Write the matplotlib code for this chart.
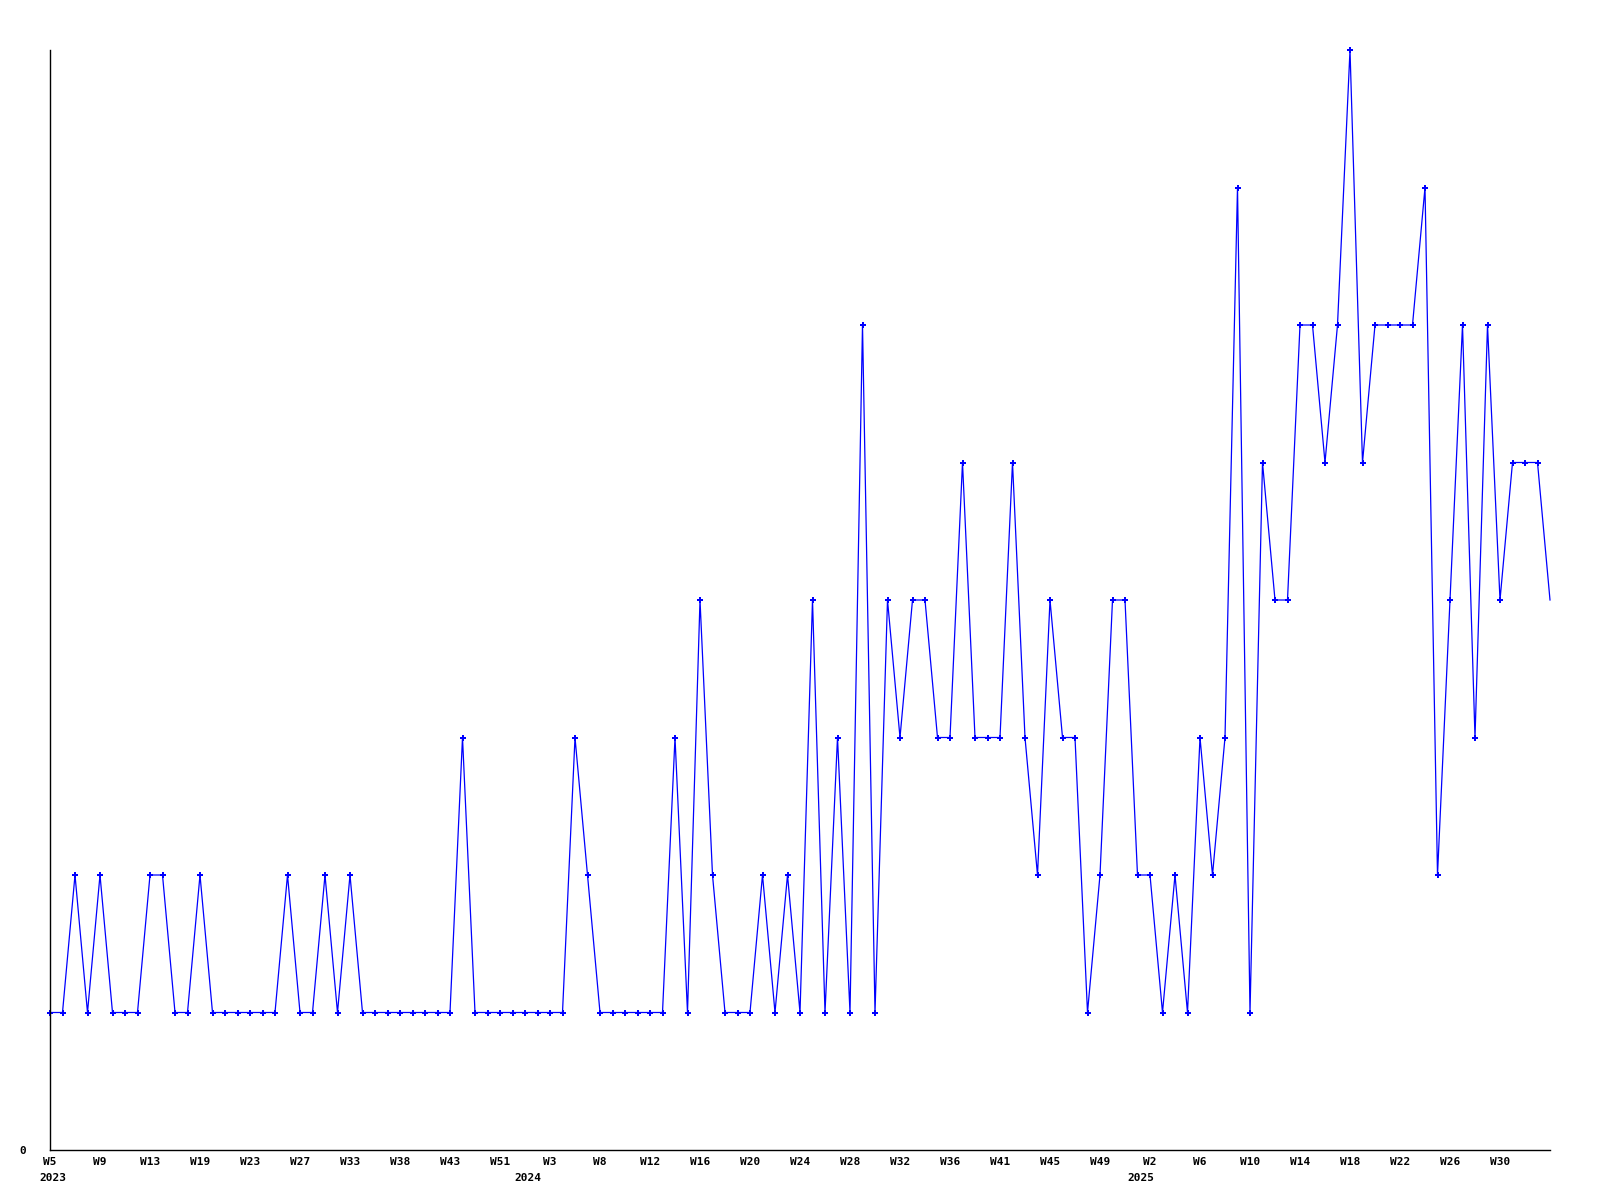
import matplotlib
matplotlib.use("Agg")
import matplotlib.pyplot as plt
import matplotlib.transforms as mtransforms

# weekly counts, one point per reported week (gaps in weeks are skipped)
values = [
    1, 1, 2, 1, 2, 1, 1, 1, 2, 2, 1, 1, 2, 1, 1, 1, 1, 1, 1, 2,
    1, 1, 2, 1, 2, 1, 1, 1, 1, 1, 1, 1, 1, 3, 1, 1, 1, 1, 1, 1,
    1, 1, 3, 2, 1, 1, 1, 1, 1, 1, 3, 1, 4, 2, 1, 1, 1, 2, 1, 2,
    1, 4, 1, 3, 1, 6, 1, 4, 3, 4, 4, 3, 3, 5, 3, 3, 3, 5, 3, 2,
    4, 3, 3, 1, 2, 4, 4, 2, 2, 1, 2, 1, 3, 2, 3, 7, 1, 5, 4, 4,
    6, 6, 5, 6, 8, 5, 6, 6, 6, 6, 7, 2, 4, 6, 3, 6, 4, 5, 5, 5,
    4,
]

tick_pos = list(range(0, 120, 4))
tick_labels = ["W5", "W9", "W13", "W19", "W23", "W27", "W33", "W38", "W43", "W51",
               "W3", "W8", "W12", "W16", "W20", "W24", "W28", "W32", "W36", "W41",
               "W45", "W49", "W2", "W6", "W10", "W14", "W18", "W22", "W26", "W30"]

year_pos = [0, 38, 87]
year_labels = ["2023", "2024", "2025"]

font = {"family": "DejaVu Sans Mono", "weight": "bold", "size": 8}

fig = plt.figure(figsize=(16, 12), dpi=100)
ax = fig.add_axes([50 / 1600, 50 / 1200, 1500 / 1600, 1100 / 1200])

x = list(range(len(values)))
ax.plot(x, values, color="#0000ff", lw=0.9, clip_on=False)
# last week is still running, no marker on it
ax.plot(x[:-1], values[:-1], ls="none", marker="P", ms=4.5, color="#0000ff",
        mew=0, clip_on=False)

ax.set_xlim(0, len(values) - 1)
ax.set_ylim(0, 8)

for s in ["top", "right"]:
    ax.spines[s].set_visible(False)
for s in ["left", "bottom"]:
    ax.spines[s].set_linewidth(1.0)
    ax.spines[s].set_color("black")

ax.set_xticks(tick_pos)
ax.set_xticklabels(tick_labels, fontdict=font)
ax.set_yticks([0])
ax.set_yticklabels(["0"], fontdict=font)
ax.tick_params(axis="x", length=0, pad=5)
ax.tick_params(axis="y", length=0, pad=17)

trans = mtransforms.blended_transform_factory(ax.transData, ax.transAxes)
offset = mtransforms.offset_copy(trans, fig=fig, x=3, y=-28, units="dots")
for p, lab in zip(year_pos, year_labels):
    ax.text(p, 0, lab, transform=offset, ha="center", va="center", **font)

fig.savefig("out.png", dpi=100)
